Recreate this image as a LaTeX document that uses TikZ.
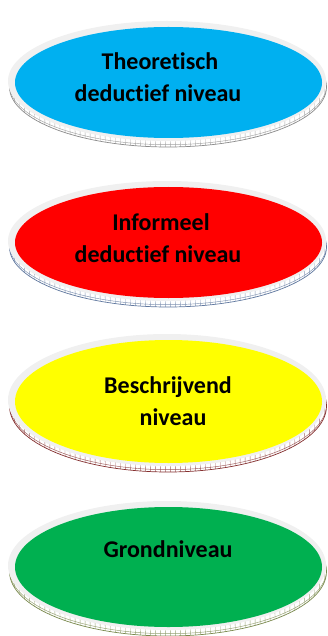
\documentclass[tikz,border=0pt]{standalone}
\usepackage{fontspec}
\setmainfont{Carlito}[Ligatures=NoCommon]
\definecolor{rimgray}{HTML}{F0F0F0}
\definecolor{faceblue}{HTML}{00B0F0}
\definecolor{facered}{HTML}{FF0000}
\definecolor{faceyellow}{HTML}{FFFF00}
\definecolor{facegreen}{HTML}{00B050}
\definecolor{sidegray}{HTML}{8C8C8C}
\definecolor{sidesteel}{HTML}{60789F}
\definecolor{sidemaroon}{HTML}{853030}
\definecolor{sideolive}{HTML}{7A8A4E}
\tikzset{
  lbl/.style={font=\fontsize{24}{30}\selectfont\bfseries, anchor=base,
              inner sep=0pt, text=black},
}
% One level disc: #1 centre y, #2 face y radius, #3 face colour, #4 side colour
\newcommand\leveldisc[4]{%
  % thin side of the disc, with its ladder texture
  \begin{scope}
    \path[clip] (168,{#1+4.5}) ellipse [x radius=158.5, y radius={#2+4.5}];
    \fill[white] (168,{#1+4.5}) ellipse [x radius=158.5, y radius={#2+4.5}];
    \foreach \xx in {4,9,...,332}
      \draw[#4!75, line width=0.4pt] (\xx,#1) -- ({\xx+1.5},{#1+#2+14});
    \draw[#4!80, line width=0.45pt] (168,{#1+2.2}) ellipse [x radius=158.7, y radius={#2+4.5}];
  \end{scope}
  \draw[#4, line width=0.7pt] (168,{#1+4.5}) ellipse [x radius=158.5, y radius={#2+4.5}];
  % light rim of the top face
  \fill[rimgray] (167,{#1-1.5}) ellipse [x radius=159, y radius={#2+4.5}];
  % coloured top face
  \fill[#3] (168.5,#1) ellipse [x radius=153.5, y radius=#2];
}
\begin{document}
\begin{tikzpicture}[x=1pt, y=-1pt]
  \useasboundingbox (0,0) rectangle (327,636);

  \leveldisc{82.5}{55.5}{faceblue}{sidegray}
  \node[lbl] (theo1) at (160,70) {Theoretisch};
  \node[lbl] (theo2) at (158,102) {deductief niveau};

  \leveldisc{242.5}{55.5}{facered}{sidesteel}
  \node[lbl] (info1) at (161,230) {Informeel};
  \node[lbl] (info2) at (158,262) {deductief niveau};

  \leveldisc{401.5}{61.5}{faceyellow}{sidemaroon}
  \node[lbl] (besch1) at (168,393) {Beschrijvend};
  \node[lbl] (besch2) at (173,425) {niveau};

  \leveldisc{567}{60}{facegreen}{sideolive}
  \node[lbl] (grond) at (168,557) {Grondniveau};
\end{tikzpicture}
\end{document}
